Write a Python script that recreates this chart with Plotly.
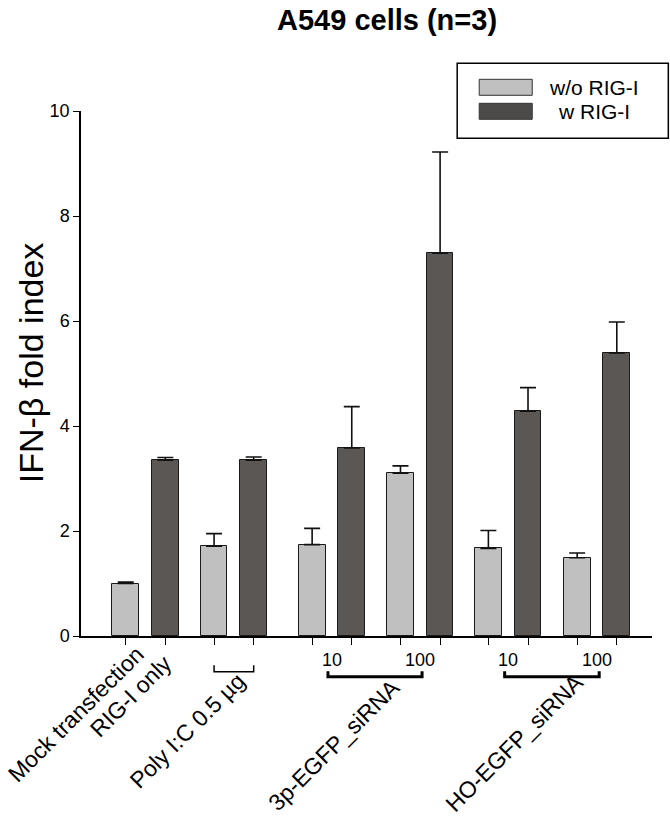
import plotly.graph_objects as go

# ---------------- data ----------------
groups = ["Mock transfection", "Poly I:C", "3p-EGFP_siRNA 10", "3p-EGFP_siRNA 100",
          "HO-EGFP_siRNA 10", "HO-EGFP_siRNA 100"]
wo_rig_vals = [1.00, 1.71, 1.74, 3.10, 1.67, 1.49]
wo_rig_err = [0.03, 0.24, 0.31, 0.14, 0.34, 0.09]
w_rig_vals = [3.35, 3.35, 3.58, 7.29, 4.28, 5.39]
w_rig_err = [0.05, 0.06, 0.79, 1.93, 0.45, 0.59]
y_ticks = [0, 2, 4, 6, 8, 10]
series_names = ["w/o RIG-I", "w RIG-I"]
dose_labels = ["10", "100", "10", "100"]
category_labels = ["Mock transfection", "RIG-I only", "Poly I:C 0.5 \u00b5g",
                   "3p-EGFP_siRNA", "HO-EGFP_siRNA"]

# ---------------- layout helpers ----------------
W, H = 670, 817
PL, PR, PT, PB = 81, 651.7, 110.7, 635.7   # plot area in page pixels
UNIT = 44.15  # px per x-unit


def fx(px):  # page pixel -> paper x
    return (px - PL) / (PR - PL)


def fy(py):  # page pixel -> paper y
    return (PB - py) / (PB - PT)


group_start = [0.0, 2.0, 4.22, 6.22, 8.21, 10.22]
pair_off = 0.897
bar_w = 0.605
x_light = group_start
x_dark = [g + pair_off for g in group_start]
x_min = (PL - 125.7) / UNIT
x_max = (PR - 125.7) / UNIT

LIGHT = "#c0c0c0"
DARK = "#5a5755"
FONT = "Liberation Sans, Arial, sans-serif"

fig = go.Figure()
for xs, vals, errs, col, name in [(x_light, wo_rig_vals, wo_rig_err, LIGHT, series_names[0]),
                                  (x_dark, w_rig_vals, w_rig_err, DARK, series_names[1])]:
    fig.add_trace(go.Bar(
        x=xs, y=vals, width=bar_w, name=name, showlegend=False,
        marker=dict(color=col, line=dict(color="#1a1a1a", width=1)),
        error_y=dict(type="data", symmetric=False, array=errs,
                     arrayminus=[0] * len(errs), color="#111111",
                     thickness=1.6, width=8),
    ))

shapes = []
annotations = []


def bracket(x0, x1, ytop, ybot, lw):
    return dict(type="path", xref="x", yref="paper",
                path=f"M {x0},{fy(ytop)} L {x0},{fy(ybot)} L {x1},{fy(ybot)} L {x1},{fy(ytop)}",
                line=dict(color="black", width=lw))


shapes.append(bracket(x_light[1], x_dark[1], 665, 671.5, 1.5))
c10a = (x_light[2] + x_dark[2]) / 2
c100a = (x_light[3] + x_dark[3]) / 2
c10b = (x_light[4] + x_dark[4]) / 2
c100b = (x_light[5] + x_dark[5]) / 2
shapes.append(bracket(c10a - 0.09, c100a + 0.04, 671, 676.5, 3))
shapes.append(bracket(c10b - 0.08, c100b + 0.05, 671, 676.5, 3))

for cx, t in zip([c10a, c100a, c10b, c100b], dose_labels):
    annotations.append(dict(x=cx, y=fy(660), xref="x", yref="paper", text=t,
                            showarrow=False, xanchor="center", yanchor="middle",
                            font=dict(family=FONT, size=18, color="black")))

# rotated category labels (text centres, page px)
label_pos = [(76, 714), (131, 696), (187, 731), (334, 745), (514, 743)]
for (px, py), t in zip(label_pos, category_labels):
    annotations.append(dict(x=fx(px), y=fy(py), xref="paper", yref="paper", text=t,
                            showarrow=False, textangle=-45, xanchor="center",
                            yanchor="middle", borderpad=0,
                            font=dict(family=FONT, size=23, color="black")))

# y axis title
annotations.append(dict(x=fx(31), y=fy(362), xref="paper", yref="paper",
                        text="IFN-\u03b2 fold index", textangle=-90, showarrow=False,
                        xanchor="center", yanchor="middle",
                        font=dict(family=FONT, size=34, color="black")))

# chart title
annotations.append(dict(x=fx(386.5), y=fy(20), xref="paper", yref="paper",
                        text="<b>A549 cells (n=3)</b>", showarrow=False,
                        xanchor="center", yanchor="middle",
                        font=dict(family=FONT, size=29, color="black")))

# legend box
shapes.append(dict(type="rect", xref="paper", yref="paper",
                   x0=fx(457), x1=fx(668), y0=fy(138), y1=fy(63),
                   line=dict(color="black", width=1.5), fillcolor="white"))
for (cy, col, name) in [(87, LIGHT, series_names[0]), (111, "#4d4b4a", series_names[1])]:
    shapes.append(dict(type="rect", xref="paper", yref="paper",
                       x0=fx(479), x1=fx(532), y0=fy(cy + 8), y1=fy(cy - 8),
                       line=dict(color="#333333", width=1), fillcolor=col))
    annotations.append(dict(x=fx(594), y=fy(cy), xref="paper", yref="paper", text=name,
                            showarrow=False, xanchor="center", yanchor="middle",
                            font=dict(family=FONT, size=21, color="black")))

fig.update_layout(
    width=W, height=H, plot_bgcolor="white", paper_bgcolor="white",
    margin=dict(l=PL, r=W - PR, t=PT, b=H - PB, pad=0),
    bargap=0, shapes=shapes, annotations=annotations, hovermode=False,
    xaxis=dict(range=[x_min, x_max], showgrid=False, zeroline=False,
               showline=True, linecolor="black", linewidth=1.5,
               tickvals=x_light + x_dark, ticks="outside", ticklen=7,
               tickwidth=1.2, tickcolor="black", showticklabels=False),
    yaxis=dict(range=[0, 10], showgrid=False, zeroline=False,
               showline=True, linecolor="black", linewidth=1.5,
               tickvals=y_ticks, ticks="outside", ticklen=6, tickwidth=1.2,
               tickcolor="black",
               tickfont=dict(family=FONT, size=18, color="black")),
)

# remove the default 8px page margin so the figure fills the window exactly
fig.write_html("out.html", config={"displayModeBar": False},
               post_script="document.body.style.margin='0px';")
